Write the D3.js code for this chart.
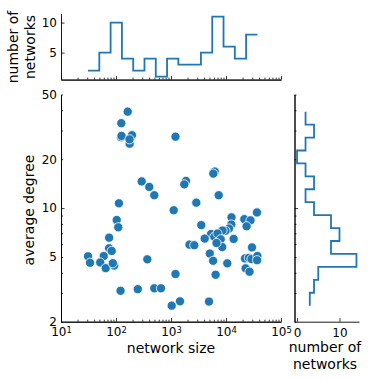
<!DOCTYPE html>
<html>
<head>
<meta charset="utf-8">
<script src="https://cdn.jsdelivr.net/npm/d3@7"></script>
<style>
  body { margin: 0; background: #fff; }
  svg { font-family: "DejaVu Sans", sans-serif; }
</style>
</head>
<body>
<div id="chart"></div>
<script>
// network size and average degree, one entry per network
const sizes = [163, 125, 123, 126, 195, 177, 176, 1207, 6230, 5875,
  1874, 1745, 293, 403, 497, 7370, 113, 2884, 1120, 36600,
  103, 110, 12590, 21500, 27900, 3555, 12490, 23700, 75, 11340,
  9790, 8640, 5340, 6130, 7010, 4100, 8010, 13750, 75, 83.5,
  2170, 2652, 8530, 6720, 29700, 31, 59.8, 33.7, 51.6, 65,
  92.7, 87.5, 371, 5076, 5830, 10560, 22150, 25980, 29080, 37230,
  36770, 22720, 26750, 1207, 6470, 121, 249, 497, 658, 1457,
  1030, 4908];
const degrees = [39.2, 33.3, 27.3, 27.8, 28.1, 24.9, 26.5, 27.5, 16.8, 16.3,
  14.7, 14.0, 14.6, 13.5, 12.0, 12.0, 10.7, 10.8, 9.7, 9.4,
  8.45, 7.62, 8.77, 8.55, 8.41, 7.86, 7.93, 7.73, 6.58, 7.49,
  7.25, 7.28, 6.93, 6.66, 6.98, 6.49, 6.43, 6.46, 5.66, 5.45,
  5.96, 5.91, 5.76, 6.10, 5.73, 5.05, 5.07, 4.61, 4.63, 4.27,
  4.43, 4.58, 4.84, 5.25, 4.74, 4.57, 4.90, 4.94, 4.86, 5.07,
  4.78, 4.26, 4.06, 3.93, 3.89, 3.10, 3.17, 3.21, 3.21, 2.67,
  2.51, 2.66];

// counts of the marginal histograms (15 log bins, low to high)
const sizeCounts = [2, 5, 10, 4, 2, 4, 1, 4, 3, 3, 5, 11, 6, 4, 8];
const degreeCounts = [3, 4, 5, 14, 8, 10, 8, 4, 2, 4, 2, 0, 2, 4, 2];

// tick values
const xTicks = [10, 100, 1000, 10000, 100000];
const yTicks = [2, 5, 10, 20, 50];
const topTicks = [5, 10];
const rightTicks = [0, 10];

let width = 374;
let height = 379;
let blue = "#1f77b4";

let svg = d3.select("#chart").append("svg")
  .attr("width", width)
  .attr("height", height);

// scales
let x = d3.scaleLog().domain([10, 100000]).range([61, 281]);
let y = d3.scaleLog().domain([2, 50]).range([321.7, 94.5]);
let topY = d3.scaleLinear().domain([0.5, 11.5]).range([79.6, 13.6]);
let rightX = d3.scaleLinear().domain([-0.6, 14.6]).range([294.5, 359]);

let minorX = x.ticks().filter(d => !xTicks.includes(d));
let minorY = y.ticks().filter(d => ![10].includes(d));

// log-spaced bin edges from the data range
function edges(values, n) {
  let lo = Math.log10(d3.min(values)), hi = Math.log10(d3.max(values));
  return d3.range(n + 1).map(i => Math.pow(10, lo + i * (hi - lo) / n));
}

function styleAxis(g) {
  g.selectAll("path").attr("stroke", "#000").attr("stroke-width", 0.9);
  g.selectAll("line").attr("stroke", "#000").attr("stroke-width", 0.8);
  g.selectAll("text").attr("font-family", "DejaVu Sans").attr("fill", "#000").attr("font-size", 12);
}

// x axes (main and top histogram)
function xAxisAt(yPos, labels) {
  svg.append("g")
    .attr("transform", `translate(0,${yPos})`)
    .call(d3.axisBottom(x).tickValues(minorX).tickSize(-2).tickSizeOuter(0).tickFormat(""))
    .call(styleAxis);
  let g = svg.append("g")
    .attr("transform", `translate(0,${yPos})`)
    .call(d3.axisBottom(x).tickValues(xTicks).tickSize(-3.5).tickSizeOuter(0).tickPadding(3).tickFormat(""))
    .call(styleAxis);
  if (labels) {
    g.selectAll(".tick text").each(function(d) {
      let t = d3.select(this).attr("dy", "0.95em");
      t.append("tspan").text("10");
      t.append("tspan").attr("dy", "-0.42em").attr("font-size", 8.4).text(Math.round(Math.log10(d)));
    });
  }
}
xAxisAt(321.7, true);
xAxisAt(79.6, false);

// y axes (main and right histogram)
function yAxisAt(xPos, labels) {
  svg.append("g")
    .attr("transform", `translate(${xPos},0)`)
    .call(d3.axisLeft(y).tickValues(minorY).tickSize(-2).tickSizeOuter(0).tickFormat(""))
    .call(styleAxis);
  svg.append("g")
    .attr("transform", `translate(${xPos},0)`)
    .call(d3.axisLeft(y).tickValues([10]).tickSize(-3.5).tickSizeOuter(0).tickFormat(""))
    .call(styleAxis);
  if (labels) {
    svg.append("g")
      .attr("transform", `translate(${xPos},0)`)
      .call(d3.axisLeft(y).tickValues(yTicks).tickSize(0).tickSizeOuter(0).tickPadding(4).tickFormat(d3.format("d")))
      .call(styleAxis)
      .call(g => g.select(".domain").remove());
  }
}
yAxisAt(61, true);
yAxisAt(294.5, false);

// top histogram y axis
svg.append("g")
  .attr("transform", "translate(61,0)")
  .call(d3.axisLeft(topY).tickValues(topTicks).tickSize(-3.5).tickSizeOuter(0).tickPadding(4))
  .call(styleAxis);

// right histogram x axis
svg.append("g")
  .attr("transform", "translate(0,321.7)")
  .call(d3.axisBottom(rightX).tickValues(rightTicks).tickSize(-3.5).tickSizeOuter(0).tickPadding(4))
  .call(g => g.selectAll(".tick text").attr("dy", "0.95em"))
  .call(styleAxis);

// top histogram (step line)
let xe = edges(sizes, sizeCounts.length);
let topPts = [];
sizeCounts.forEach((c, i) => { topPts.push([xe[i], c]); topPts.push([xe[i + 1], c]); });
svg.append("path")
  .attr("d", d3.line().x(d => x(d[0])).y(d => topY(d[1]))(topPts))
  .attr("fill", "none")
  .attr("stroke", blue)
  .attr("stroke-width", 1.8);

// right histogram (step line)
let ye = edges(degrees, degreeCounts.length);
let rightPts = [];
degreeCounts.forEach((c, i) => { rightPts.push([c, ye[i]]); rightPts.push([c, ye[i + 1]]); });
svg.append("path")
  .attr("d", d3.line().x(d => rightX(d[0])).y(d => y(d[1]))(rightPts))
  .attr("fill", "none")
  .attr("stroke", blue)
  .attr("stroke-width", 1.8);

// scatter
svg.append("g").selectAll("circle")
  .data(sizes)
  .enter()
  .append("circle")
  .attr("cx", d => x(d))
  .attr("cy", (d, i) => y(degrees[i]))
  .attr("r", 4.6)
  .attr("fill", blue)
  .attr("stroke", "#fff")
  .attr("stroke-width", 0.8);

// axis labels
svg.append("text")
  .attr("x", 171).attr("y", 353)
  .attr("text-anchor", "middle")
  .attr("font-size", 14)
  .text("network size");

svg.append("text")
  .attr("transform", "translate(33.5,210) rotate(-90)")
  .attr("text-anchor", "middle")
  .attr("font-size", 14)
  .text("average degree");

let topLabel = svg.append("text")
  .attr("transform", "translate(18,47) rotate(-90)")
  .attr("text-anchor", "middle")
  .attr("font-size", 14);
topLabel.append("tspan").attr("x", 0).attr("y", 0).text("number of");
topLabel.append("tspan").attr("x", 0).attr("y", 16.8).text("networks");

let rightLabel = svg.append("text")
  .attr("text-anchor", "middle")
  .attr("font-size", 14);
rightLabel.append("tspan").attr("x", 325).attr("y", 352).text("number of");
rightLabel.append("tspan").attr("x", 325).attr("y", 368.5).text("networks");
</script>
</body>
</html>
